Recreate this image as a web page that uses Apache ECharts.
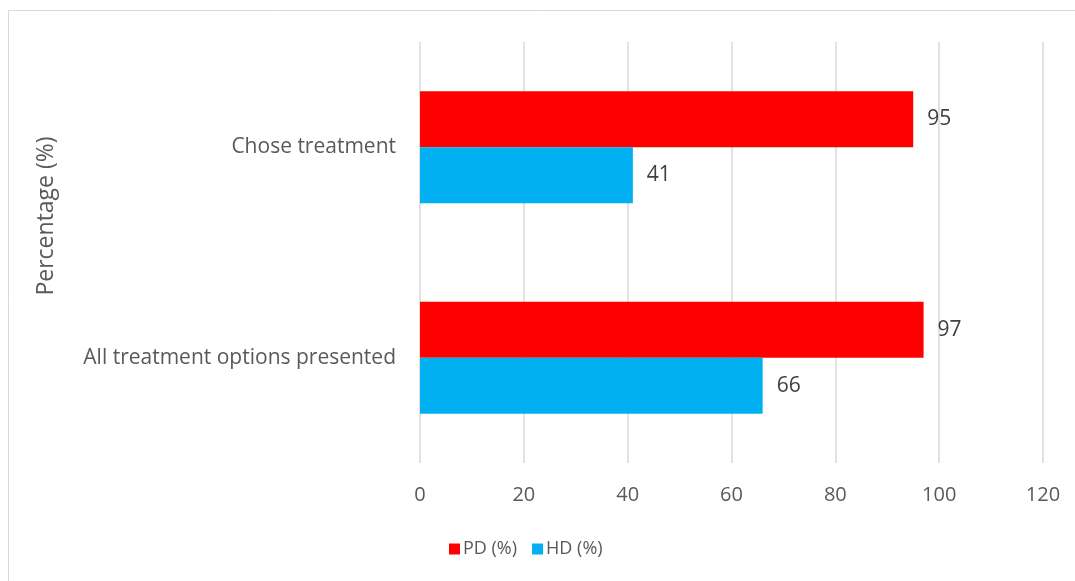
<!DOCTYPE html>
<html>
<head>
<meta charset="utf-8">
<style>
  html, body { margin: 0; padding: 0; background: #fff; }
  #chart { width: 1075px; height: 581px; }
</style>
<script src="https://cdn.jsdelivr.net/npm/echarts@6/dist/echarts.min.js"></script>
</head>
<body>
<div id="chart"></div>
<script>
// Categories from bottom to top of the y axis
const categories = ['All treatment options presented', 'Chose treatment'];
const pdValues = [97, 95];
const hdValues = [66, 41];
const xTicks = { min: 0, max: 120, interval: 20 };

const textColor = '#595959';
const fontFamily = 'Open Sans, Liberation Sans, sans-serif';

const chart = echarts.init(document.getElementById('chart'));

const labelStyle = {
  show: true,
  position: 'right',
  distance: 14,
  color: '#404040',
  fontSize: 21,
  fontFamily: fontFamily
};

chart.setOption({
  animation: false,
  textStyle: { fontFamily: fontFamily },
  grid: { left: 420, right: 32, top: 42, bottom: 118, containLabel: false },
  graphic: [
    {
      type: 'rect',
      shape: { x: 8.5, y: 10.5, width: 1100, height: 600 },
      style: { fill: 'none', stroke: '#d9d9d9', lineWidth: 1 },
      silent: true
    },
    {
      type: 'text',
      x: 46,
      y: 216,
      rotation: Math.PI / 2,
      style: {
        text: 'Percentage (%)',
        fill: textColor,
        fontSize: 23,
        fontFamily: fontFamily,
        align: 'center',
        verticalAlign: 'middle'
      }
    }
  ],
  legend: {
    data: ['PD (%)', 'HD (%)'],
    bottom: 18,
    left: 444,
    itemWidth: 11,
    itemHeight: 11,
    itemGap: 15,
    icon: 'rect',
    textStyle: { color: textColor, fontSize: 18, fontFamily: fontFamily, padding: [0, 0, 0, -2] }
  },
  xAxis: {
    type: 'value',
    min: xTicks.min,
    max: xTicks.max,
    interval: xTicks.interval,
    axisLine: { show: false },
    axisTick: { show: false },
    splitLine: { show: true, lineStyle: { color: '#d9d9d9', width: 1.5 } },
    axisLabel: { color: textColor, fontSize: 20, margin: 22, fontFamily: fontFamily }
  },
  yAxis: {
    type: 'category',
    data: categories,
    axisLine: { show: false },
    axisTick: { show: false },
    axisLabel: { color: textColor, fontSize: 21, margin: 24, fontFamily: fontFamily }
  },
  series: [
    {
      name: 'PD (%)',
      type: 'bar',
      data: pdValues,
      barWidth: 56,
      barGap: '0%',
      itemStyle: { color: '#FF0000' },
      label: labelStyle
    },
    {
      name: 'HD (%)',
      type: 'bar',
      data: hdValues,
      barWidth: 56,
      barGap: '0%',
      itemStyle: { color: '#00B0F0' },
      label: labelStyle
    }
  ]
});
</script>
</body>
</html>
